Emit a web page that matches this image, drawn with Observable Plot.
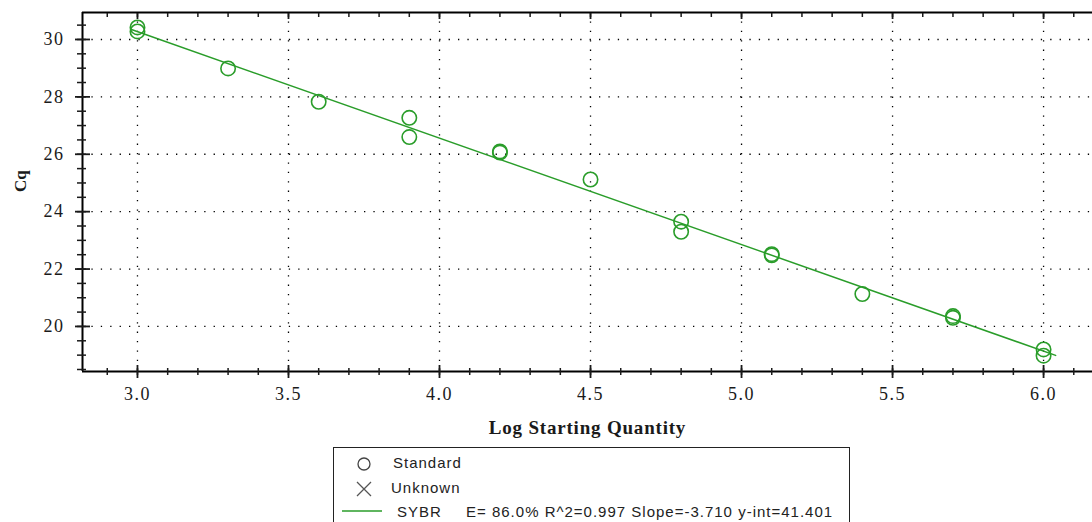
<!DOCTYPE html>
<html><head><meta charset="utf-8">
<script src="https://cdn.jsdelivr.net/npm/d3@7"></script>
<script src="https://cdn.jsdelivr.net/npm/@observablehq/plot@0.6"></script>
<style>
html,body{margin:0;padding:0;background:#fff}
body{position:relative;width:1092px;height:522px;overflow:hidden}
#chart svg{display:block}
#chart g[aria-label="x-axis tick label"] text,#chart g[aria-label="y-axis tick label"] text{letter-spacing:1.5px}
#chart g.title text{letter-spacing:0.8px}
#legend{position:absolute;left:333px;top:447px;width:517px;height:110px;border:1px solid #222;box-sizing:border-box;background:#fff}
#legend svg{display:block}
#legend text{font-family:"Liberation Sans",Arial,sans-serif;font-size:15px;fill:#222;letter-spacing:1px}
</style></head><body>
<div id="chart"></div>
<div id="legend"></div>
<script>
// Data
const logQty = [3.0, 3.0, 3.3, 3.6, 3.9, 3.9, 4.2, 4.2, 4.5, 4.8, 4.8, 5.1, 5.1, 5.4, 5.7, 5.7, 6.0, 6.0];
const cq     = [30.42, 30.28, 28.99, 27.83, 27.27, 26.60, 26.10, 26.06, 25.12, 23.65, 23.30, 22.52, 22.48, 21.13, 20.36, 20.30, 19.20, 18.98];

// Standard-curve fit (legend values)
const seriesName = "SYBR";
const efficiency = 86.0;
const rSquared = 0.997;
const slope = -3.710;
const intercept = 41.401;

// Axis ticks
const xMajor = [3.0, 3.5, 4.0, 4.5, 5.0, 5.5, 6.0];
const yMajor = [20, 22, 24, 26, 28, 30];
const xMinor = d3.range(29, 62, 1).map(d => d / 10);
const yMinor = d3.range(37, 62, 1).map(d => d / 2);

const xDomain = [2.818, 6.162];
const yDomain = [18.43, 30.94];

const green = "#2a9d2a";
const points = logQty.map((x, i) => ({x, y: cq[i]}));
const fitX = [d3.min(logQty) - 0.02, d3.max(logQty) + 0.04];
const fitLine = fitX.map(x => ({x, y: slope * x + intercept}));

const chart = Plot.plot({
  width: 1092,
  height: 440,
  marginLeft: 82,
  marginRight: 0,
  marginTop: 12,
  marginBottom: 69,
  x: {domain: xDomain},
  y: {domain: yDomain},
  style: {fontFamily: '"Liberation Serif","Times New Roman",serif', color: "#1a1a1a", background: "#fff"},
  marks: [
    Plot.gridX(xMajor, {stroke: "#000", strokeOpacity: 1, strokeWidth: 1.3, strokeDasharray: "1.3,8.1"}),
    Plot.gridY(yMajor, {stroke: "#000", strokeOpacity: 1, strokeWidth: 1.3, strokeDasharray: "1.3,8.1"}),
    Plot.ruleX([xDomain[0]], {stroke: "#000", strokeWidth: 2}),
    Plot.ruleY(yDomain, {stroke: "#000", strokeWidth: 2}),
    // bottom ticks (crossing)
    Plot.axisX(xMinor, {anchor: "bottom", tickSize: 7, dy: -3, text: null, label: null, strokeWidth: 1.5}),
    Plot.axisX(xMajor, {anchor: "bottom", tickSize: 13, dy: -6, text: null, label: null, strokeWidth: 1.8}),
    Plot.axisX(xMajor, {anchor: "bottom", tickSize: 0, tickPadding: 16, label: null, fontSize: 18, tickFormat: d => d.toFixed(1)}),
    // top ticks (inward)
    Plot.axisX(xMinor, {anchor: "top", tickSize: 4, dy: 4, text: null, label: null, strokeWidth: 1.5}),
    Plot.axisX(xMajor, {anchor: "top", tickSize: 6, dy: 6, text: null, label: null, strokeWidth: 1.8}),
    // left ticks (crossing)
    Plot.axisY(yMinor, {anchor: "left", tickSize: 9, dx: 4, text: null, label: null, strokeWidth: 1.5}),
    Plot.axisY(yMajor, {anchor: "left", tickSize: 15, dx: 8, text: null, label: null, strokeWidth: 1.8}),
    Plot.axisY(yMajor, {anchor: "left", tickSize: 0, tickPadding: 18, label: null, fontSize: 18}),
    // titles
    Plot.text(["Log Starting Quantity"], {frameAnchor: "bottom", dy: 62, fontWeight: "bold", fontSize: 19, fill: "#1a1a1a", className: "title"}),
    Plot.text(["Cq"], {frameAnchor: "left", dx: -62, rotate: -90, fontWeight: "bold", fontSize: 17, fill: "#1a1a1a"}),
    // data
    Plot.line(fitLine, {x: "x", y: "y", stroke: green, strokeWidth: 1.5}),
    Plot.dot(points, {x: "x", y: "y", r: 7.2, stroke: green, strokeWidth: 1.6, fill: "none"})
  ]
});
document.getElementById("chart").appendChild(chart);

// Legend
const legendLabel = `E= ${efficiency.toFixed(1)}% R^2=${rSquared.toFixed(3)} Slope=${slope.toFixed(3)} y-int=${intercept.toFixed(3)}`;
const lg = d3.select("#legend").append("svg").attr("width", 515).attr("height", 108);
lg.append("circle").attr("cx", 30).attr("cy", 16).attr("r", 6).attr("fill", "none").attr("stroke", "#444").attr("stroke-width", 1.3);
lg.append("path").attr("d", "M23,34L37,48M37,34L23,48").attr("stroke", "#555").attr("stroke-width", 1.3);
lg.append("line").attr("x1", 8).attr("x2", 48).attr("y1", 63).attr("y2", 63).attr("stroke", green).attr("stroke-width", 1.5);
lg.append("text").attr("x", 59).attr("y", 14).attr("dominant-baseline", "central").text("Standard");
lg.append("text").attr("x", 57).attr("y", 39).attr("dominant-baseline", "central").text("Unknown");
lg.append("text").attr("x", 63).attr("y", 63).attr("dominant-baseline", "central").text(seriesName);
lg.append("text").attr("x", 132).attr("y", 63).attr("dominant-baseline", "central").text(legendLabel);
</script>
</body></html>
